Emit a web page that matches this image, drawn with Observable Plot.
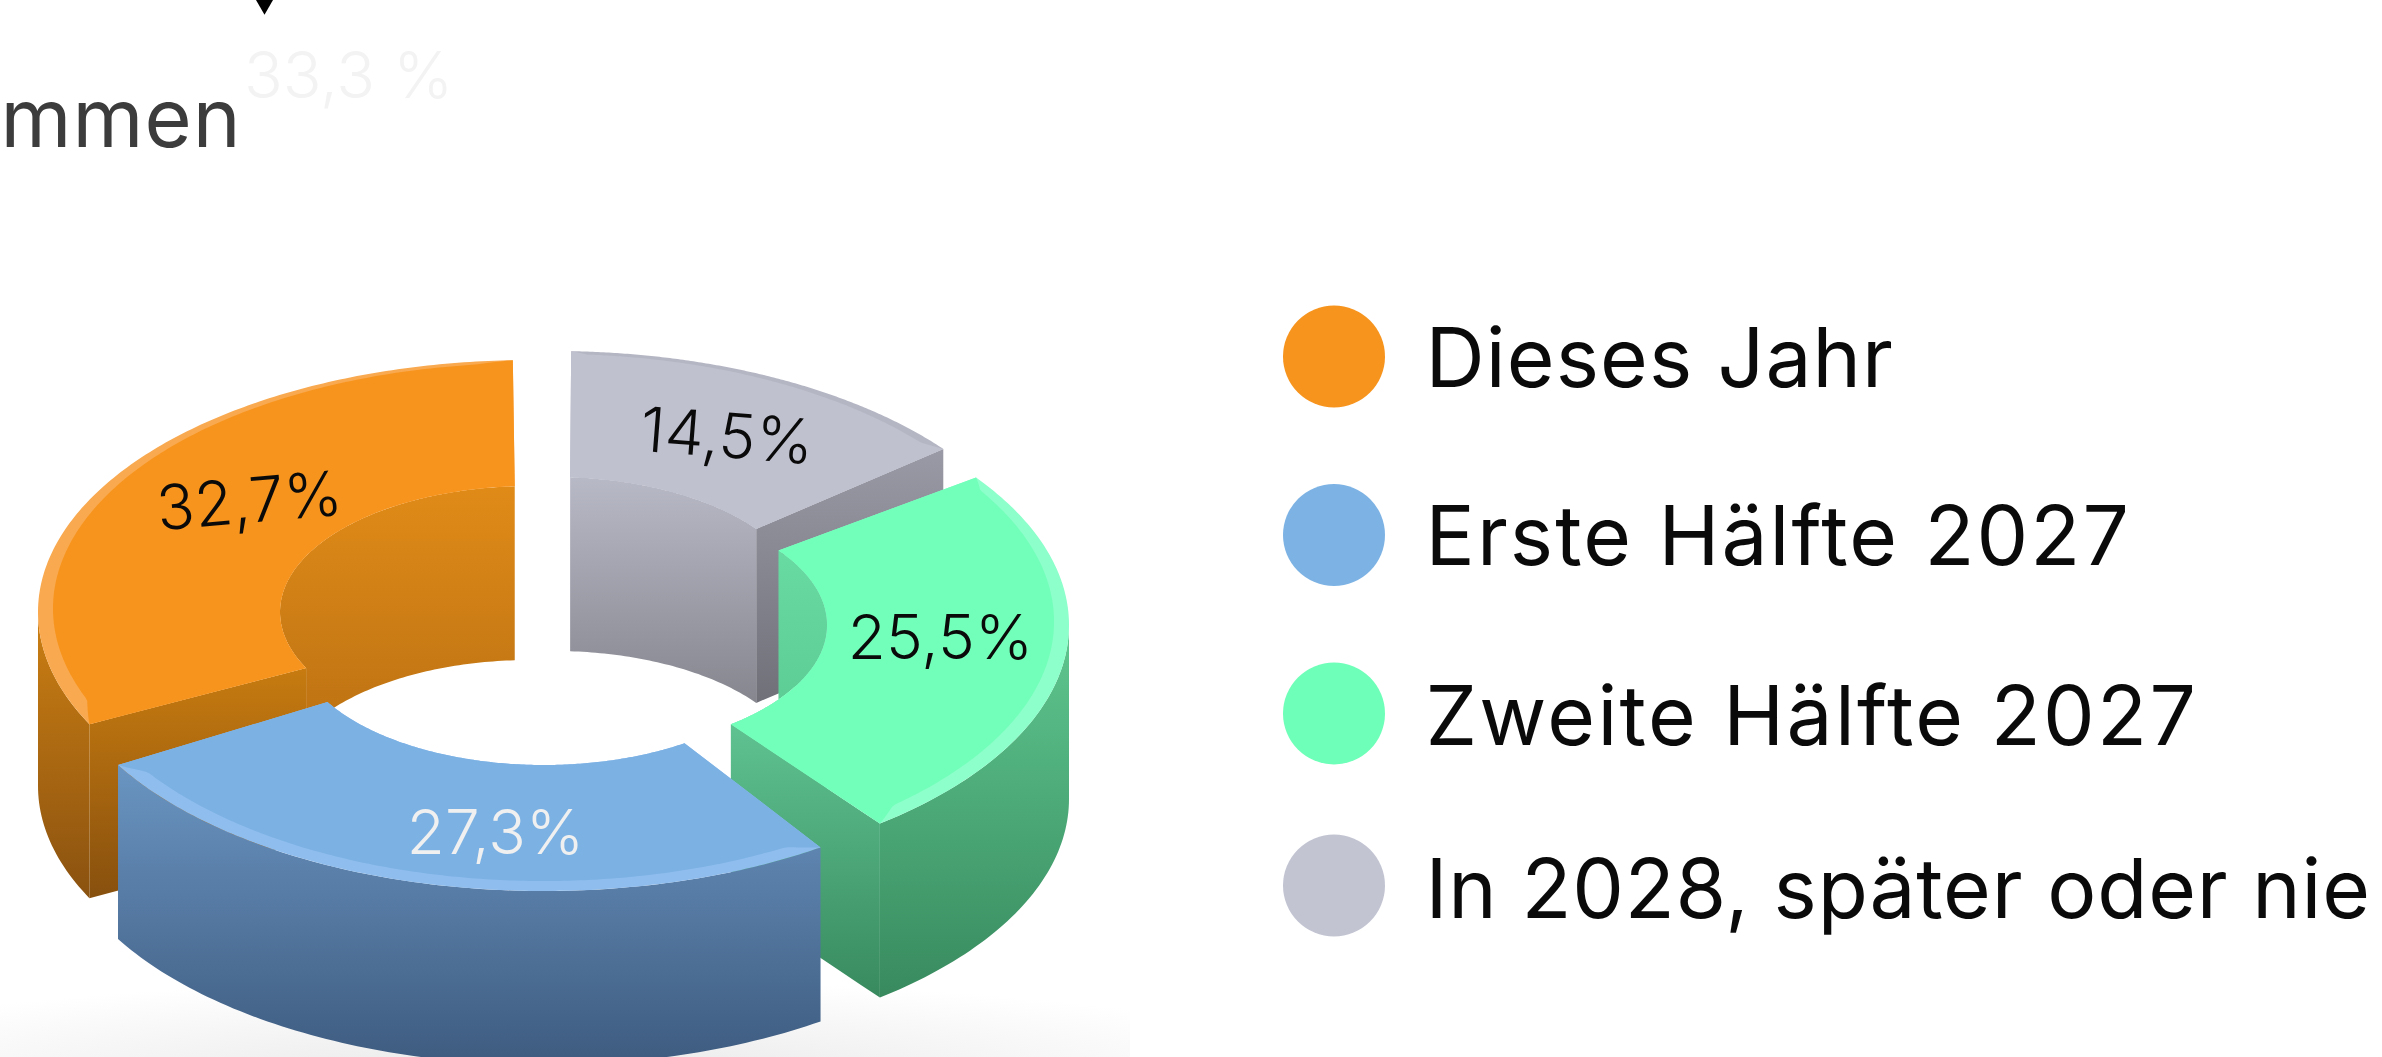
<!DOCTYPE html>
<html lang="de">
<head>
<meta charset="utf-8">
<title>Donut</title>
<style>
html,body{margin:0;padding:0;background:#fff;overflow:hidden}svg{display:block}
.sp-0{letter-spacing:1.1px}.sp-1{letter-spacing:2.1px}.sp-2{letter-spacing:2.3px}.sp-3{letter-spacing:.8px}
.sp-l{letter-spacing:.2px}.sp-m{letter-spacing:1px}
</style>
<script src="https://cdn.jsdelivr.net/npm/d3@7"></script>
<script src="https://cdn.jsdelivr.net/npm/@observablehq/plot@0.6"></script>
</head>
<body>
<div id="chart"></div>
<script>
// Data, clockwise from the top of the ring
const sliceKeys = ["grau", "gruen", "blau", "orange"];
const shares = [14.5, 25.5, 27.3, 32.7];
const shareLabels = ["14,5%", "25,5%", "27,3%", "32,7%"];

// Legend
const legendNames = ["Dieses Jahr", "Erste Hälfte 2027", "Zweite Hälfte 2027", "In 2028, später oder nie"];
const legendColors = ["#f7941d", "#7db3e4", "#6effb8", "#c2c4d2"];
const legendDotY = [356, 534.5, 713, 885];
const legendTextY = [386, 564, 744, 917];

// Ring geometry
const W = 2382, H = 1057;
const startAngle = 0.5, rx = 492, ry = 252, rxIn = 250, ryIn = 126, depth = 174, rimX = 15, rimH = 6.5, rimShift = 3.5, rimTaper = 0.04;
const centerX = {grau: 554, gruen: 577, blau: 544, orange: 530};
const centerY = {grau: 603, gruen: 625, blau: 639, orange: 612};
const trimStart = {grau: 1.5, gruen: 1.5, blau: 1.3, orange: 0.8};
const trimEnd = {grau: -0.4, gruen: -2.5, blau: -2.8, orange: -2.5};
const innerStart = {grau: 1.7, gruen: -0.5, blau: 0, orange: 0};
const innerEnd = {grau: 1.7, gruen: 0, blau: 0, orange: -1.5};
const labelX = {grau: 725, gruen: 940, blau: 495, orange: 251};
const labelY = {grau: 457, gruen: 658, blau: 853, orange: 522};
const labelTurn = {grau: 4.5, gruen: 0, blau: 0, orange: -5};
const labelInk = {grau: "#0a0a0a", gruen: "#0a0a0a", blau: "#f0f0f0", orange: "#0a0a0a"};

// Colours
const faceColor = {grau: "#bfc1cf", gruen: "#72ffb9", blau: "#7cb1e4", orange: "#f7941d"};
const rimColor = {grau: "#b5b6c4", gruen: "#8cffca", blau: "#8fbdee", orange: "#f9a94f"};
const wallOuter = {gruen: ["#5fc790", "#388a5e"], blau: ["#6a95c2", "#3e5b7f"], orange: ["#cc7f13", "#8a5210"]};
const wallInner = {grau: ["#b8b9c6", "#85868e"], gruen: ["#68dba2", "#4fbb84"], orange: ["#e08b18", "#ad6710"]};
const wallCut = {grau: ["#9a9aa6", "#6f7078"], gruen: ["#5fc291", "#388a5e"], orange: ["#c77b10", "#87500e"]};

// Angular extents follow from the shares
let running = startAngle;
const slices = sliceKeys.map((key, i) => {
  const a0 = running, a1 = running + shares[i] * 3.6;
  running = a1;
  return {key, a0: a0 + trimStart[key], a1: a1 + trimEnd[key], i0: a0 + trimStart[key] + innerStart[key], i1: a1 + trimEnd[key] + innerEnd[key]};
});
const bySlice = Object.fromEntries(slices.map(s => [s.key, s]));
const rad = d => d * Math.PI / 180;
const px = (k, a, r) => centerX[k] + r * Math.sin(rad(a));
const py = (k, a, r) => centerY[k] - r * Math.cos(rad(a));
const steps = (a0, a1) => { const n = Math.max(2, Math.ceil(Math.abs(a1 - a0))); return d3.range(n + 1).map(i => a0 + (a1 - a0) * i / n); };
const unit = d3.range(161).map(i => i / 160);
const taper = t => Math.min(1, Math.min(t, 1 - t) / rimTaper);

function topBand(k, rim, fill) {
  const s = bySlice[k];
  const ao = t => s.a0 + (s.a1 - s.a0) * t, ai = t => s.i0 + (s.i1 - s.i0) * t;
  const w = t => rim * taper(t);
  return Plot.area(unit, {
    x1: t => px(k, ao(t), rx - rimX * w(t)),
    y1: t => py(k, ao(t), ry - rimH * w(t)) - rimShift * w(t),
    x2: t => px(k, ai(t), rxIn), y2: t => py(k, ai(t), ryIn), fill
  });
}
function wall(k, a0, a1, r, q, id) {
  return Plot.area(steps(a0, a1), {x1: a => px(k, a, r), y1: a => py(k, a, q), x2: a => px(k, a, r), y2: a => py(k, a, q) + depth, fill: `url(#${id})`});
}
function cut(k, aOut, aIn, id) {
  const ts = d3.range(9).map(i => i / 8);
  const xAt = t => px(k, aOut, rx) * (1 - t) + px(k, aIn, rxIn) * t;
  const yAt = t => py(k, aOut, ry) * (1 - t) + py(k, aIn, ryIn) * t;
  return Plot.area(ts, {x1: xAt, y1: yAt, x2: xAt, y2: t => yAt(t) + depth, fill: `url(#${id})`});
}
function topFace(k) {
  return [topBand(k, 0, rimColor[k]), topBand(k, 1, faceColor[k])];
}
function gradients() {
  const defs = d3.create("svg:defs");
  const add = (id, [c0, c1]) => {
    const g = defs.append("linearGradient").attr("id", id).attr("x1", 0).attr("y1", 0).attr("x2", 0).attr("y2", 1);
    g.append("stop").attr("offset", 0).attr("stop-color", c0);
    g.append("stop").attr("offset", 1).attr("stop-color", c1);
  };
  for (const [k, v] of Object.entries(wallOuter)) add("outer-" + k, v);
  for (const [k, v] of Object.entries(wallInner)) add("inner-" + k, v);
  for (const [k, v] of Object.entries(wallCut)) add("cut-" + k, v);
  const s = defs.append("radialGradient").attr("id", "floor").attr("cx", 0.48).attr("cy", 1.15).attr("r", 0.72);
  s.append("stop").attr("offset", 0).attr("stop-color", "#e8e8e8");
  s.append("stop").attr("offset", 1).attr("stop-color", "#ffffff");
  return defs.node();
}

const G = bySlice.grau, N = bySlice.gruen, B = bySlice.blau, O = bySlice.orange;
const marks = [
  gradients,
  Plot.rect([0], {x1: () => 0, x2: () => 1130, y1: () => 920, y2: () => H, fill: "url(#floor)"}),
  // grey slice
  wall("grau", G.i0, G.i1, rxIn, ryIn, "inner-grau"),
  cut("grau", G.a1, G.i1, "cut-grau"),
  ...topFace("grau"),
  // green slice
  wall("gruen", N.i0, N.i1, rxIn, ryIn, "inner-gruen"),
  wall("gruen", Math.max(N.a0, 90), N.a1, rx, ry, "outer-gruen"),
  cut("gruen", N.a1, N.i1, "cut-gruen"),
  ...topFace("gruen"),
  // orange slice
  wall("orange", O.i0, O.i1, rxIn, ryIn, "inner-orange"),
  wall("orange", O.a0, 270, rx, ry, "outer-orange"),
  cut("orange", O.a0, O.i0, "cut-orange"),
  ...topFace("orange"),
  // blue slice
  wall("blau", B.a0, B.a1, rx, ry, "outer-blau"),
  ...topFace("blau"),
  // share labels
  ...sliceKeys.map((k, i) => Plot.text([shareLabels[i]], {
    x: () => labelX[k], y: () => labelY[k], text: d => d, rotate: labelTurn[k], className: "sp-l",
    fontSize: 62, fontFamily: "Inter", fontWeight: 340, fill: labelInk[k], lineAnchor: "bottom", textAnchor: "middle"
  })),
  // legend
  Plot.dot(legendNames, {x: () => 1333.5, y: (d, i) => legendDotY[i], r: 51, fill: d => d, stroke: null}),
  ...legendNames.map((name, i) => Plot.text([name], {
    x: () => 1425, y: () => legendTextY[i], text: d => d, className: "sp-" + i,
    fontSize: 82, fontFamily: "Inter", fontWeight: 370, fill: "#0a0a0a", textAnchor: "start", lineAnchor: "bottom"
  })),
  // shard of a cropped headline glyph at the top edge
  Plot.dot([0], {x: () => 264, y: () => -6, r: 13, symbol: "triangle", rotate: 180, fill: "#000", stroke: null}),
  // fragments of the surrounding page
  Plot.text(["mmen"], {x: () => 241, y: () => 146, text: d => d, className: "sp-m", fontSize: 81, fontFamily: "Inter", fontWeight: 400, fill: "#3c3c3c", textAnchor: "end", lineAnchor: "bottom"}),
  Plot.text(["33,3 %"], {x: () => 348, y: () => 97, text: d => d, fontSize: 64, fontFamily: "Inter", fontWeight: 300, fill: "#f3f3f3", textAnchor: "middle", lineAnchor: "bottom"})
];

const chart = Plot.plot({
  width: W, height: H, margin: 0, clip: false,
  x: {domain: [0, W], range: [0, W], axis: null},
  y: {domain: [0, H], range: [0, H], axis: null},
  color: {domain: legendNames, range: legendColors},
  style: {background: "#fff"},
  marks
});
document.getElementById("chart").append(chart);
</script>
</body>
</html>
